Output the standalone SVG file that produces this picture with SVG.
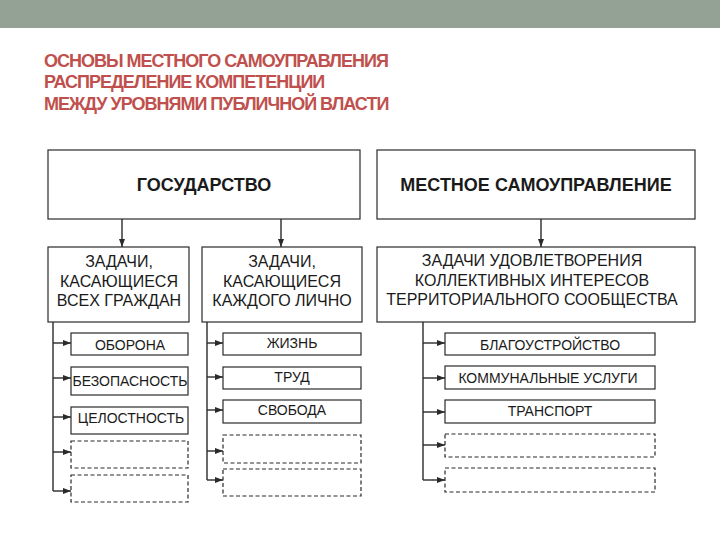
<svg xmlns="http://www.w3.org/2000/svg" width="720" height="540" viewBox="0 0 720 540">
<defs>
<style>
.box{fill:#fff;stroke:#2a2a2a;stroke-width:1.2}
.dash{fill:#fff;stroke:#2a2a2a;stroke-width:1.2;stroke-dasharray:4 2.5}
.hd{font-family:"Liberation Sans",Arial,sans-serif;font-weight:bold;font-size:18px;fill:#1a1a1a;text-anchor:middle}
.tx{font-family:"Liberation Sans",Arial,sans-serif;font-size:16px;fill:#1a1a1a;text-anchor:middle}
.it{font-family:"Liberation Sans",Arial,sans-serif;font-size:14px;fill:#1a1a1a;text-anchor:middle}
.ttl{font-family:"Liberation Sans",Arial,sans-serif;font-weight:bold;font-size:18px;fill:#c0504d;letter-spacing:-1px}
.ln{fill:none;stroke:#2a2a2a;stroke-width:1.4}
</style>
<marker id="ah" viewBox="0 0 8 6" refX="8" refY="3" markerWidth="8" markerHeight="6" markerUnits="userSpaceOnUse" orient="auto">
<path d="M0,0 L8,3 L0,6 Z" fill="#2a2a2a"/>
</marker>
</defs>
<rect x="0" y="0" width="720" height="28" fill="#93a294"/>
<g id="title">
<text class="ttl" x="44" y="67">ОСНОВЫ МЕСТНОГО САМОУПРАВЛЕНИЯ</text>
<text class="ttl" x="44" y="88">РАСПРЕДЕЛЕНИЕ КОМПЕТЕНЦИИ</text>
<text class="ttl" x="44" y="110">МЕЖДУ УРОВНЯМИ ПУБЛИЧНОЙ ВЛАСТИ</text>
</g>
<g id="connectors">
<line class="ln" x1="122" y1="219" x2="122" y2="247" marker-end="url(#ah)"/>
<line class="ln" x1="281" y1="219" x2="281" y2="247" marker-end="url(#ah)"/>
<line class="ln" x1="541" y1="219" x2="541" y2="247" marker-end="url(#ah)"/>
<path class="ln" d="M53,322 V491"/>
<line class="ln" x1="53" y1="343" x2="71" y2="343" marker-end="url(#ah)"/>
<line class="ln" x1="53" y1="378" x2="71" y2="378" marker-end="url(#ah)"/>
<line class="ln" x1="53" y1="417" x2="71" y2="417" marker-end="url(#ah)"/>
<line class="ln" x1="53" y1="452" x2="71" y2="452" marker-end="url(#ah)"/>
<line class="ln" x1="53" y1="491" x2="71" y2="491" marker-end="url(#ah)"/>
<path class="ln" d="M207,322 V480"/>
<line class="ln" x1="207" y1="343" x2="223" y2="343" marker-end="url(#ah)"/>
<line class="ln" x1="207" y1="377" x2="223" y2="377" marker-end="url(#ah)"/>
<line class="ln" x1="207" y1="410" x2="223" y2="410" marker-end="url(#ah)"/>
<line class="ln" x1="207" y1="451" x2="223" y2="451" marker-end="url(#ah)"/>
<line class="ln" x1="207" y1="480" x2="223" y2="480" marker-end="url(#ah)"/>
<path class="ln" d="M423,322 V480"/>
<line class="ln" x1="423" y1="343" x2="445" y2="343" marker-end="url(#ah)"/>
<line class="ln" x1="423" y1="378" x2="445" y2="378" marker-end="url(#ah)"/>
<line class="ln" x1="423" y1="412" x2="445" y2="412" marker-end="url(#ah)"/>
<line class="ln" x1="423" y1="445" x2="445" y2="445" marker-end="url(#ah)"/>
<line class="ln" x1="423" y1="480" x2="445" y2="480" marker-end="url(#ah)"/>
</g>
<g id="state">
<rect class="box" x="48" y="150" width="312" height="69"/>
<text class="hd" x="204" y="191">ГОСУДАРСТВО</text>
</g>
<g id="local">
<rect class="box" x="377" y="150" width="318" height="69"/>
<text class="hd" x="536" y="191">МЕСТНОЕ САМОУПРАВЛЕНИЕ</text>
</g>
<g id="tasks-all">
<rect class="box" x="48" y="247" width="141" height="75"/>
<text class="tx" x="119" y="267">ЗАДАЧИ,</text>
<text class="tx" x="119" y="287">КАСАЮЩИЕСЯ</text>
<text class="tx" x="119" y="306">ВСЕХ ГРАЖДАН</text>
</g>
<g id="tasks-each">
<rect class="box" x="202" y="247" width="160" height="75"/>
<text class="tx" x="282" y="267">ЗАДАЧИ,</text>
<text class="tx" x="282" y="287">КАСАЮЩИЕСЯ</text>
<text class="tx" x="282" y="306">КАЖДОГО ЛИЧНО</text>
</g>
<g id="tasks-local">
<rect class="box" x="377" y="247" width="318" height="75"/>
<text class="tx" x="532" y="266">ЗАДАЧИ УДОВЛЕТВОРЕНИЯ</text>
<text class="tx" x="532" y="286">КОЛЛЕКТИВНЫХ ИНТЕРЕСОВ</text>
<text class="tx" x="532" y="305">ТЕРРИТОРИАЛЬНОГО СООБЩЕСТВА</text>
</g>
<g id="oborona">
<rect class="box" x="71" y="333" width="117" height="22"/>
<text class="it" x="130" y="350">ОБОРОНА</text>
</g>
<g id="bezopasnost">
<rect class="box" x="71" y="367" width="117" height="28"/>
<text class="it" x="130" y="386">БЕЗОПАСНОСТЬ</text>
</g>
<g id="celostnost">
<rect class="box" x="71" y="407" width="117" height="27"/>
<text class="it" x="131" y="423">ЦЕЛОСТНОСТЬ</text>
</g>
<g id="empty-l1"><rect class="dash" x="71" y="441" width="117" height="27"/></g>
<g id="empty-l2"><rect class="dash" x="71" y="475" width="117" height="27"/></g>
<g id="zhizn">
<rect class="box" x="223" y="333" width="138" height="22"/>
<text class="it" x="292" y="348">ЖИЗНЬ</text>
</g>
<g id="trud">
<rect class="box" x="223" y="367" width="138" height="22"/>
<text class="it" x="292" y="382">ТРУД</text>
</g>
<g id="svoboda">
<rect class="box" x="223" y="400" width="138" height="23"/>
<text class="it" x="292" y="415">СВОБОДА</text>
</g>
<g id="empty-m1"><rect class="dash" x="223" y="435" width="138" height="28"/></g>
<g id="empty-m2"><rect class="dash" x="223" y="469" width="138" height="27"/></g>
<g id="blago">
<rect class="box" x="445" y="333" width="210" height="22"/>
<text class="it" x="550" y="350">БЛАГОУСТРОЙСТВО</text>
</g>
<g id="kommun">
<rect class="box" x="445" y="366" width="210" height="23"/>
<text class="it" x="548" y="383">КОММУНАЛЬНЫЕ УСЛУГИ</text>
</g>
<g id="transport">
<rect class="box" x="445" y="400" width="210" height="23"/>
<text class="it" x="550" y="416">ТРАНСПОРТ</text>
</g>
<g id="empty-r1"><rect class="dash" x="445" y="434" width="210" height="23"/></g>
<g id="empty-r2"><rect class="dash" x="445" y="468" width="210" height="24"/></g>
</svg>
